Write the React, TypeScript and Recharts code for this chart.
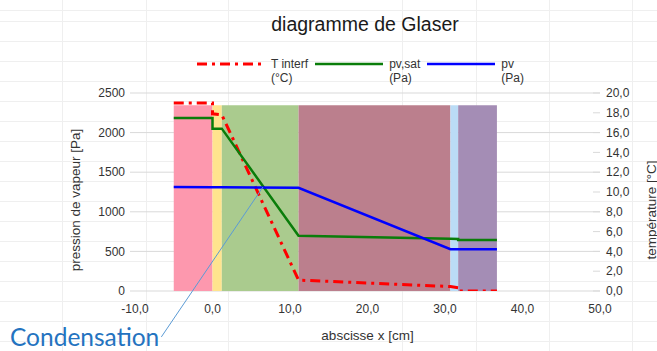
import React from 'react';
import {
  ComposedChart,
  Line,
  XAxis,
  YAxis,
  CartesianGrid,
  ReferenceArea,
  ReferenceLine,
} from 'recharts';

// layers of the wall (x in cm)
const LAYER_BOUNDS = [-5, 0, 1.2, 11.1, 30.7, 31.7, 36.7];
const LAYER_COLORS = ['#fd98ae', '#ffe48e', '#aacb8e', '#bb7f8d', '#bbdcf6', '#a48db5'];
const LAYER_TOP = 2345;

// T interf (°C)
const T_X = [-5, 0, 0, 1.2, 11.1, 30.7, 31.7, 31.7, 36.7];
const T_VAL = [19.0, 19.0, 17.9, 17.8, 1.1, 0.45, 0.33, 0.0, 0.0];
// pv,sat (Pa)
const PSAT_X = [-5, 0, 0, 1.2, 11.1, 30.7, 31.7, 31.7, 36.7];
const PSAT_VAL = [2185, 2185, 2050, 2050, 698, 660, 657, 645, 645];
// pv (Pa)
const PV_X = [-5, 0, 1.2, 11.1, 30.7, 36.7];
const PV_VAL = [1312, 1310, 1309, 1303, 527, 527];

const X_TICKS = [-10, 0, 10, 20, 30, 40, 50];
const P_TICKS = [0, 500, 1000, 1500, 2000, 2500];
const T_TICKS = [0, 2, 4, 6, 8, 10, 12, 14, 16, 18, 20];

// annotation "Condensation": from the pv / pv,sat crossing down to the text
const COND_FROM = { x: 6.5, y: 1312 };
const COND_TO = { x: -6.6, y: -580 };

const FONT = '"Liberation Sans", Arial, sans-serif';
const TEXT = '#333333';
const GRID = '#d9d9d9';
const SHEET = '#efefef';
const SHEET_COLS = [62, 146, 228, 402, 476, 549, 632];

const zip = (xs: number[], vs: number[]) => xs.map((x, i) => ({ x, v: vs[i] }));
const fmt1 = (v: number) => v.toFixed(1).replace('.', ',');

const SERIES = [
  { name: 'T interf', unit: '(°C)', color: '#ff0000', dash: '10 5 3 5', axis: 'right', data: zip(T_X, T_VAL) },
  { name: 'pv,sat', unit: '(Pa)', color: '#0a7d0a', dash: undefined, axis: 'left', data: zip(PSAT_X, PSAT_VAL) },
  { name: 'pv', unit: '(Pa)', color: '#0000ff', dash: undefined, axis: 'left', data: zip(PV_X, PV_VAL) },
];

function RightTick(props: any) {
  const { x, y, payload } = props;
  return (
    <g>
      <line x1={x - 13} x2={x - 6} y1={y} y2={y} stroke={GRID} />
      <text x={x} y={y} dy="0.35em" fill={TEXT} fontSize={12} fontFamily={FONT} textAnchor="start">
        {fmt1(payload.value)}
      </text>
    </g>
  );
}

const leftLabel = ({ viewBox }: any) => {
  const cx = viewBox.x + 75;
  const cy = viewBox.y + viewBox.height / 2 + 8;
  return (
    <text x={cx} y={cy} transform={`rotate(-90 ${cx} ${cy})`} textAnchor="middle" dominantBaseline="central"
      fill={TEXT} fontSize={13.5} fontFamily={FONT}>
      pression de vapeur [Pa]
    </text>
  );
};

const rightLabel = ({ viewBox }: any) => {
  const cx = viewBox.x + 51;
  const cy = viewBox.y + viewBox.height / 2 + 18;
  return (
    <text x={cx} y={cy} transform={`rotate(-90 ${cx} ${cy})`} textAnchor="middle" dominantBaseline="central"
      fill={TEXT} fontSize={13.5} fontFamily={FONT}>
      température [°C]
    </text>
  );
};

const bottomLabel = ({ viewBox }: any) => {
  const cx = viewBox.x + viewBox.width / 2;
  const cy = viewBox.y + 44;
  return (
    <text x={cx} y={cy} textAnchor="middle" dominantBaseline="central" fill={TEXT} fontSize={13.5} fontFamily={FONT}>
      abscisse x [cm]
    </text>
  );
};

const sheetBackground = [
  `repeating-linear-gradient(to bottom, transparent 0px, transparent 1px, ${SHEET} 1px, ${SHEET} 2px, transparent 2px, transparent 20px)`,
  ...SHEET_COLS.map(
    (c) => `linear-gradient(to right, transparent ${c}px, ${SHEET} ${c}px, ${SHEET} ${c + 1}px, transparent ${c + 1}px)`,
  ),
].join(', ');

export default function App() {
  return (
    <div
      style={{
        position: 'absolute',
        left: 0,
        top: 0,
        width: 657,
        height: 351,
        overflow: 'hidden',
        background: '#ffffff',
        fontFamily: FONT,
      }}
    >
      <div style={{ position: 'absolute', inset: 0, backgroundImage: sheetBackground, backgroundPosition: '0 20px' }} />

      <div
        style={{
          position: 'absolute',
          left: 365,
          top: 14,
          transform: 'translateX(-50%)',
          fontSize: 19.5,
          lineHeight: '20px',
          color: '#1a1a1a',
          whiteSpace: 'nowrap',
        }}
      >
        diagramme de Glaser
      </div>

      <div style={{ position: 'absolute', left: 197, top: 57, display: 'flex', alignItems: 'flex-start' }}>
        {SERIES.map((s) => (
          <div key={s.name} style={{ display: 'flex', alignItems: 'flex-start', marginRight: 7 }}>
            <svg width={68} height={14} style={{ marginRight: 6 }}>
              <line x1={0} x2={68} y1={7} y2={7} stroke={s.color} strokeWidth={s.dash ? 3 : 2.5}
                strokeDasharray={s.dash} />
            </svg>
            <div style={{ fontSize: 12, lineHeight: '14px', color: TEXT, whiteSpace: 'nowrap' }}>
              {s.name}
              <br />
              {s.unit}
            </div>
          </div>
        ))}
      </div>

      <div style={{ position: 'absolute', left: 0, top: 0 }}>
        <ComposedChart width={657} height={351} margin={{ top: 93, right: 0, bottom: 30, left: 0 }}>
          <CartesianGrid yAxisId="left" vertical={false} stroke={GRID} />
          <XAxis
            dataKey="x"
            type="number"
            domain={[-10, 50]}
            ticks={X_TICKS}
            interval={0}
            allowDuplicatedCategory
            tickFormatter={fmt1}
            tick={{ fill: TEXT, fontSize: 12, fontFamily: FONT }}
            tickLine={false}
            axisLine={false}
            tickSize={6}
            tickMargin={7}
            height={30}
            label={{ content: bottomLabel }}
          />
          <YAxis
            yAxisId="left"
            orientation="left"
            type="number"
            domain={[0, 2500]}
            ticks={P_TICKS}
            interval={0}
            allowDataOverflow
            width={135}
            tick={{ fill: TEXT, fontSize: 12, fontFamily: FONT }}
            tickLine={{ stroke: GRID }}
            tickSize={5}
            tickMargin={5}
            axisLine={false}
            label={{ content: leftLabel }}
          />
          <YAxis
            yAxisId="right"
            orientation="right"
            type="number"
            domain={[0, 20]}
            ticks={T_TICKS}
            interval={0}
            allowDataOverflow
            width={57}
            tick={<RightTick />}
            tickLine={false}
            tickSize={0}
            tickMargin={6}
            axisLine={false}
            label={{ content: rightLabel }}
          />
          {LAYER_COLORS.map((c, i) => (
            <ReferenceArea
              key={c}
              yAxisId="left"
              x1={LAYER_BOUNDS[i]}
              x2={LAYER_BOUNDS[i + 1]}
              y1={0}
              y2={LAYER_TOP}
              fill={c}
              fillOpacity={1}
              stroke="none"
              ifOverflow="visible"
            />
          ))}
          {SERIES.map((s) => (
            <Line
              key={s.name}
              data={s.data}
              dataKey="v"
              yAxisId={s.axis}
              type="linear"
              stroke={s.color}
              strokeWidth={s.dash ? 3 : 2.5}
              strokeDasharray={s.dash}
              dot={false}
              activeDot={false}
              isAnimationActive={false}
            />
          ))}
          <ReferenceLine
            yAxisId="left"
            segment={[COND_FROM, COND_TO]}
            stroke="#5b9bd5"
            strokeWidth={1}
            ifOverflow="visible"
          />
        </ComposedChart>
      </div>

      <div
        style={{
          position: 'absolute',
          left: 10,
          top: 323,
          fontFamily: 'Lato, "Open Sans", sans-serif',
          fontSize: 24.5,
          lineHeight: '28px',
          color: '#2473c0',
          whiteSpace: 'nowrap',
        }}
      >
        Condensation
      </div>
    </div>
  );
}
